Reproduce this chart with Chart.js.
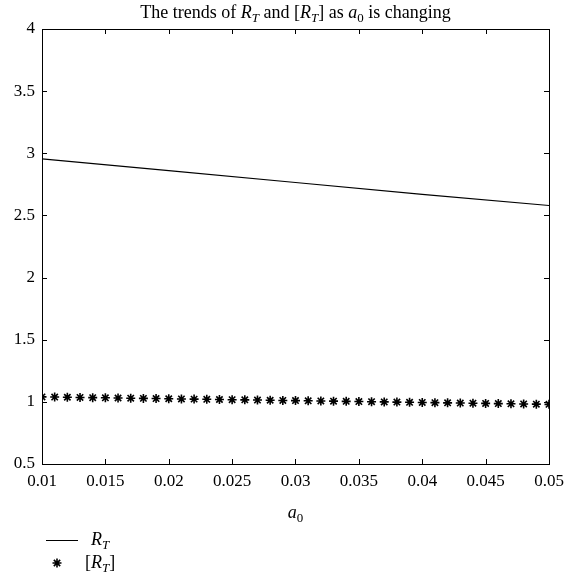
<!DOCTYPE html>
<html>
<head>
<meta charset="utf-8">
<script src="https://cdn.jsdelivr.net/npm/chart.js@4.4.1/dist/chart.umd.min.js"></script>
<style>
  html, body { margin: 0; padding: 0; background: #fff; }
  #wrap { width: 581px; height: 580px; position: relative; }
</style>
</head>
<body>
<div id="wrap"><canvas id="myChart" width="581" height="580"></canvas></div>
<script>
'use strict';
// data
var xTicks = [0.01, 0.015, 0.02, 0.025, 0.03, 0.035, 0.04, 0.045, 0.05];
var yTicks = [0.5, 1, 1.5, 2, 2.5, 3, 3.5, 4];

var lineA0 = [0.01, 0.02, 0.03, 0.04, 0.05];
var lineRT = [2.955, 2.86, 2.765, 2.67, 2.58];

var starA0 = [0.010, 0.011, 0.012, 0.013, 0.014, 0.015, 0.016, 0.017, 0.018, 0.019,
              0.020, 0.021, 0.022, 0.023, 0.024, 0.025, 0.026, 0.027, 0.028, 0.029,
              0.030, 0.031, 0.032, 0.033, 0.034, 0.035, 0.036, 0.037, 0.038, 0.039,
              0.040, 0.041, 0.042, 0.043, 0.044, 0.045, 0.046, 0.047, 0.048, 0.049, 0.050];
var starRT = [1.04, 1.0385, 1.037, 1.0355, 1.034, 1.0325, 1.031, 1.0295, 1.028, 1.0265,
              1.025, 1.0235, 1.022, 1.0205, 1.019, 1.0175, 1.016, 1.0145, 1.013, 1.0115,
              1.010, 1.0085, 1.007, 1.0055, 1.004, 1.0025, 1.001, 0.9995, 0.998, 0.9965,
              0.995, 0.9935, 0.992, 0.9905, 0.989, 0.9875, 0.986, 0.9845, 0.983, 0.9815, 0.980];

var FONT = '"Liberation Serif", "DejaVu Serif", serif';

function pts(xs, ys) {
    var out = [];
    for (var i = 0; i < xs.length; i++) out.push({ x: xs[i], y: ys[i] });
    return out;
}

// text with italic letters and subscripts, baseline at y
function drawRich(ctx, parts, x, y, size, align) {
    var total = 0;
    parts.forEach(function (p) {
        p.size = p.sub ? size * 0.72 : size;
        ctx.font = (p.it ? 'italic ' : '') + p.size + 'px ' + FONT;
        p.w = ctx.measureText(p.t).width;
        total += p.w;
    });
    var cx = align === 'center' ? x - total / 2 : x;
    parts.forEach(function (p) {
        ctx.font = (p.it ? 'italic ' : '') + p.size + 'px ' + FONT;
        ctx.fillText(p.t, cx, p.sub ? y + size * 0.22 : y);
        cx += p.w;
    });
}

var framePlugin = {
    id: 'frame',
    afterDraw: function (chart) {
        var ctx = chart.ctx, a = chart.chartArea;
        var xs = chart.scales.x, ys = chart.scales.y;
        ctx.save();
        ctx.strokeStyle = '#000';
        ctx.fillStyle = '#000';
        ctx.lineWidth = 1;
        ctx.strokeRect(a.left + 0.5, a.top + 0.5, a.right - a.left, a.bottom - a.top);
        // inner ticks on all four sides
        ctx.beginPath();
        xs.ticks.forEach(function (t) {
            var px = Math.round(xs.getPixelForValue(t.value)) + 0.5;
            ctx.moveTo(px, a.bottom); ctx.lineTo(px, a.bottom - 5);
            ctx.moveTo(px, a.top); ctx.lineTo(px, a.top + 5);
        });
        ys.ticks.forEach(function (t) {
            var py = Math.round(ys.getPixelForValue(t.value)) + 0.5;
            ctx.moveTo(a.left, py); ctx.lineTo(a.left + 5, py);
            ctx.moveTo(a.right, py); ctx.lineTo(a.right - 5, py);
        });
        ctx.stroke();

        ctx.textBaseline = 'alphabetic';
        ctx.textAlign = 'left';
        var mid = (a.left + a.right) / 2;
        // title
        drawRich(ctx, [
            { t: 'The trends of ' }, { t: 'R', it: true }, { t: 'T', it: true, sub: true },
            { t: ' and [' }, { t: 'R', it: true }, { t: 'T', it: true, sub: true },
            { t: '] as ' }, { t: 'a', it: true }, { t: '0', sub: true }, { t: ' is changing' }
        ], mid, 18, 18, 'center');
        // x axis title
        drawRich(ctx, [{ t: 'a', it: true }, { t: '0', sub: true }], mid, 518, 18, 'center');
        // legend
        ctx.beginPath();
        ctx.moveTo(46, 540.5); ctx.lineTo(78, 540.5);
        ctx.stroke();
        drawRich(ctx, [{ t: 'R', it: true }, { t: 'T', it: true, sub: true }], 91, 545, 18, 'left');
        ctx.lineWidth = 1.6;
        Chart.helpers.drawPoint(ctx, { pointStyle: 'star', radius: 4.5, rotation: 0, borderWidth: 1.6 }, 57, 563);
        drawRich(ctx, [{ t: '[' }, { t: 'R', it: true }, { t: 'T', it: true, sub: true }, { t: ']' }], 85, 568, 18, 'left');
        ctx.restore();
    }
};

var ctx = document.getElementById('myChart');
var myChart = new Chart(ctx, {
    type: 'scatter',
    data: {
        datasets: [{
            label: 'R_T',
            data: pts(lineA0, lineRT),
            showLine: true,
            borderColor: '#000',
            borderWidth: 1.2,
            pointRadius: 0,
            fill: false
        }, {
            label: '[R_T]',
            data: pts(starA0, starRT),
            showLine: false,
            pointStyle: 'star',
            pointRadius: 4.5,
            borderColor: '#000',
            backgroundColor: '#000',
            borderWidth: 1.6
        }]
    },
    options: {
        responsive: false,
        animation: false,
        devicePixelRatio: 1,
        layout: { padding: { top: 29, right: 32, left: 0, bottom: 0 } },
        plugins: {
            legend: { display: false },
            title: { display: false },
            tooltip: { enabled: false }
        },
        scales: {
            x: {
                type: 'linear',
                min: 0.01,
                max: 0.05,
                afterBuildTicks: function (scale) {
                    scale.ticks = xTicks.map(function (v) { return { value: v }; });
                },
                afterFit: function (scale) { scale.height = 116; },
                grid: { display: false, drawTicks: false },
                border: { display: false },
                ticks: {
                    color: '#000',
                    padding: 7,
                    maxRotation: 0,
                    autoSkip: false,
                    font: { family: FONT, size: 17 },
                    callback: function (v) { return String(parseFloat(v.toFixed(3))); }
                }
            },
            y: {
                type: 'linear',
                min: 0.5,
                max: 4,
                afterBuildTicks: function (scale) {
                    scale.ticks = yTicks.map(function (v) { return { value: v }; });
                },
                afterFit: function (scale) { scale.width = 42; },
                grid: { display: false, drawTicks: false },
                border: { display: false },
                ticks: {
                    color: '#000',
                    padding: 7,
                    autoSkip: false,
                    font: { family: FONT, size: 17 },
                    callback: function (v) { return String(v); }
                }
            }
        }
    },
    plugins: [framePlugin]
});
</script>
</body>
</html>
